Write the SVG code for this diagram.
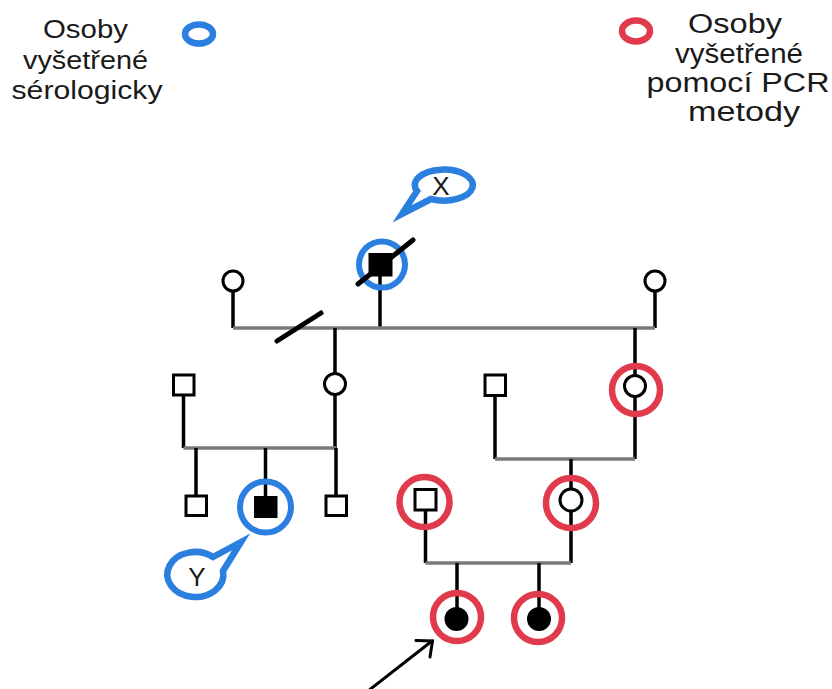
<svg xmlns="http://www.w3.org/2000/svg" width="832" height="689" viewBox="0 0 832 689">
  <style>
    .bg { fill: #ffffff; }
    .lbl { font-family: "Liberation Sans", Arial, sans-serif; fill: #1a1a1a; text-anchor: middle; }
    .leg-l { font-size: 25px; }
    .leg-r { font-size: 27px; }
    .bubble-txt { font-family: "Liberation Sans", Arial, sans-serif; font-size: 26px; fill: #1a1a1a; text-anchor: middle; }
    .vline { stroke: #000; stroke-width: 3.5; fill: none; }
    .hline { stroke: #7a7a7a; stroke-width: 3.5; fill: none; }
    .male { fill: #fff; stroke: #000; stroke-width: 3; }
    .female { fill: #fff; stroke: #000; stroke-width: 3; }
    .affected { fill: #000; stroke: #000; stroke-width: 2; }
    .sero { fill: none; stroke: #2b7fdf; stroke-width: 6; }
    .pcr { fill: none; stroke: #e13a4d; stroke-width: 6.5; }
    .slash { stroke: #000; stroke-width: 5; stroke-linecap: round; }
    .bubble { fill: #fff; stroke: #2b7fdf; stroke-width: 6.5; stroke-linejoin: miter; }
    .arrow { stroke: #000; stroke-width: 3; fill: none; stroke-linecap: round; stroke-linejoin: miter; }
  </style>

  <rect class="bg" x="0" y="0" width="832" height="689"/>

  <!-- legend: serology -->
  <g id="legend-serology">
    <text class="lbl leg-l" x="85.5" y="38" textLength="85" lengthAdjust="spacingAndGlyphs">Osoby</text>
    <text class="lbl leg-l" x="85.5" y="69" textLength="125" lengthAdjust="spacingAndGlyphs">vyšetřené</text>
    <text class="lbl leg-l" x="87" y="99" textLength="151" lengthAdjust="spacingAndGlyphs">sérologicky</text>
    <ellipse class="sero" cx="199" cy="34" rx="14" ry="9.5" style="stroke-width:6.5"/>
  </g>

  <!-- legend: PCR -->
  <g id="legend-pcr">
    <ellipse class="pcr" cx="636" cy="31" rx="14" ry="10.5"/>
    <text class="lbl leg-r" x="735" y="33" textLength="94" lengthAdjust="spacingAndGlyphs">Osoby</text>
    <text class="lbl leg-r" x="739" y="63" textLength="128" lengthAdjust="spacingAndGlyphs">vyšetřené</text>
    <text class="lbl leg-r" x="738" y="92" textLength="183" lengthAdjust="spacingAndGlyphs">pomocí PCR</text>
    <text class="lbl leg-r" x="744" y="121" textLength="112" lengthAdjust="spacingAndGlyphs">metody</text>
  </g>

  <!-- connectors -->
  <g id="connectors">
    <!-- generation I -->
    <line class="vline" x1="233" y1="290" x2="233" y2="328"/>
    <line class="vline" x1="380" y1="275" x2="380" y2="328"/>
    <line class="vline" x1="655" y1="291" x2="655" y2="328"/>
    <line class="hline" x1="233" y1="328" x2="655" y2="328"/>
    <line class="slash" x1="277" y1="341" x2="321" y2="313"/>
    <!-- generation II, left couple -->
    <line class="vline" x1="335" y1="328" x2="335" y2="448"/>
    <line class="vline" x1="183.5" y1="395" x2="183.5" y2="448"/>
    <line class="hline" x1="183.5" y1="448" x2="336" y2="448"/>
    <line class="vline" x1="196" y1="448" x2="196" y2="496"/>
    <line class="vline" x1="265.5" y1="448" x2="265.5" y2="497"/>
    <line class="vline" x1="336" y1="448" x2="336" y2="496"/>
    <!-- generation II, right couple -->
    <line class="vline" x1="635" y1="328" x2="635" y2="459"/>
    <line class="vline" x1="495" y1="395" x2="495" y2="459"/>
    <line class="hline" x1="495" y1="459" x2="635" y2="459"/>
    <line class="vline" x1="571" y1="459" x2="571" y2="563"/>
    <!-- generation III couple -->
    <line class="vline" x1="425.5" y1="510" x2="425.5" y2="563"/>
    <line class="hline" x1="425.5" y1="563" x2="571" y2="563"/>
    <line class="vline" x1="457" y1="563" x2="457" y2="610"/>
    <line class="vline" x1="539" y1="563" x2="539" y2="610"/>
    <!-- proband arrow -->
    <line class="arrow" x1="368" y1="691" x2="432" y2="641"/>
    <polyline class="arrow" points="416,640.5 432.5,641 430,657"/>
  </g>

  <!-- generation I -->
  <g id="n-I1">
    <circle class="female" cx="233" cy="281" r="10"/>
  </g>
  <g id="n-I2">
    <rect class="affected" x="369.5" y="254" width="22" height="21.5"/>
    <circle class="sero" cx="382" cy="264.5" r="23"/>
    <line class="slash" x1="358" y1="284" x2="413" y2="240"/>
  </g>
  <g id="n-I3">
    <circle class="female" cx="655" cy="281" r="10"/>
  </g>
  <g id="bubble-X">
    <path class="bubble" d="M431 199 L402 214 L417 191 A29 15.5 0 1 1 431 199 Z"/>
    <text class="bubble-txt" x="441" y="195">X</text>
  </g>

  <!-- generation II -->
  <g id="n-II1">
    <rect class="male" x="173.5" y="375" width="20.5" height="20"/>
  </g>
  <g id="n-II2">
    <circle class="female" cx="335" cy="384" r="10.5"/>
  </g>
  <g id="n-II3">
    <rect class="male" x="485" y="375" width="20.5" height="20.5"/>
  </g>
  <g id="n-II4">
    <circle class="female" cx="635" cy="386" r="10.5"/>
    <circle class="pcr" cx="636" cy="390" r="24"/>
  </g>

  <!-- generation III -->
  <g id="n-III1">
    <rect class="male" x="186" y="496" width="20.5" height="19.5"/>
  </g>
  <g id="n-III2">
    <rect class="affected" x="255" y="497" width="21.5" height="20"/>
    <circle class="sero" cx="265.5" cy="507" r="25.5"/>
  </g>
  <g id="n-III3">
    <rect class="male" x="326" y="496" width="20.5" height="19.5"/>
  </g>
  <g id="bubble-Y">
    <path class="bubble" d="M213 557 L241 542 L223 571 A28 22.5 0 1 1 213 557 Z"/>
    <text class="bubble-txt" x="197" y="586">Y</text>
  </g>
  <g id="n-III4">
    <rect class="male" x="415" y="489.5" width="21" height="20.5"/>
    <circle class="pcr" cx="424.5" cy="502" r="25"/>
  </g>
  <g id="n-III5">
    <circle class="female" cx="571" cy="500" r="11"/>
    <circle class="pcr" cx="571" cy="503" r="25"/>
  </g>

  <!-- generation IV -->
  <g id="n-IV1">
    <circle class="affected" cx="456.5" cy="619" r="11"/>
    <circle class="pcr" cx="457" cy="617" r="24"/>
  </g>
  <g id="n-IV2">
    <circle class="affected" cx="539" cy="619" r="11"/>
    <circle class="pcr" cx="538" cy="618" r="24"/>
  </g>
</svg>
